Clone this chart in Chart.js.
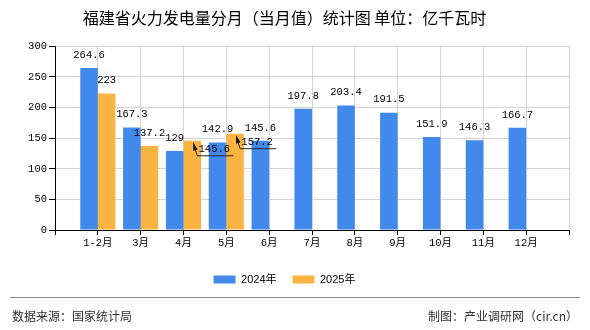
<!DOCTYPE html>
<html><head><meta charset="utf-8">
<script src="https://cdn.jsdelivr.net/npm/chart.js@4/dist/chart.umd.min.js"></script>
<style>html,body{margin:0;padding:0;background:#fff}#wrap{width:590px;height:330px;position:relative}</style>
</head><body><div id="wrap"><canvas id="c"></canvas></div>
<script>
const months = ['1-2月','3月','4月','5月','6月','7月','8月','9月','10月','11月','12月'];
const values2024 = [264.6,167.3,129,142.9,145.6,197.8,203.4,191.5,151.9,146.3,166.7];
const values2025 = [223,137.2,145.6,157.2,null,null,null,null,null,null,null];
const seriesNames = ['2024年','2025年'];
const yTicks = [0,50,100,150,200,250,300];
const callout2025 = ['4月','5月'];
const titleText = '福建省火力发电量分月（当月值）统计图 单位：亿千瓦时';
const sourceText = '数据来源：国家统计局';
const makerText = '制图：产业调研网（cir.cn）';

const axisLabels = [''].concat(months, ['']);
const pad = arr => [null].concat(arr, [null]);
const MONO = '"Liberation Mono","DejaVu Sans Mono","Noto Sans CJK SC",monospace';
const CJK = '"Noto Sans CJK SC","Noto Sans",sans-serif';

const valuePlugin = {
  id: 'vals',
  afterDatasetsDraw(chart) {
    const ctx = chart.ctx;
    ctx.save();
    ctx.font = '10.5px ' + MONO;
    ctx.fillStyle = '#000';
    ctx.textAlign = 'center';
    ctx.textBaseline = 'middle';
    chart.data.datasets.forEach((ds, di) => {
      const meta = chart.getDatasetMeta(di);
      meta.data.forEach((bar, i) => {
        const v = ds.data[i];
        if (v == null) return;
        const txt = String(v);
        if (di === 1 && callout2025.includes(axisLabels[i])) {
          const tx = bar.x + 1, ty = bar.y + 2;
          const ex = bar.x + 5, ey = bar.y + 15;
          ctx.strokeStyle = '#222';
          ctx.lineWidth = 1;
          ctx.beginPath();
          ctx.moveTo(tx, ty); ctx.lineTo(ex, ey); ctx.lineTo(bar.x + 41, ey);
          ctx.stroke();
          const ang = Math.atan2(ty - ey, tx - ex);
          ctx.beginPath();
          ctx.moveTo(tx, ty);
          ctx.lineTo(tx - 8 * Math.cos(ang - 0.3), ty - 8 * Math.sin(ang - 0.3));
          ctx.lineTo(tx - 8 * Math.cos(ang + 0.3), ty - 8 * Math.sin(ang + 0.3));
          ctx.closePath();
          ctx.fillStyle = '#111';
          ctx.fill();
          ctx.fillStyle = '#000';
          ctx.fillText(txt, bar.x + 22, bar.y + 8.5);
        } else {
          ctx.fillText(txt, bar.x, bar.y - 13);
        }
      });
    });
    ctx.restore();
  }
};

const footerPlugin = {
  id: 'footer',
  afterDraw(chart) {
    const ctx = chart.ctx;
    ctx.save();
    ctx.strokeStyle = '#888';
    ctx.lineWidth = 1;
    ctx.beginPath();
    ctx.moveTo(10, 297.5); ctx.lineTo(580, 297.5);
    ctx.stroke();
    ctx.font = '12px ' + CJK;
    ctx.fillStyle = '#333';
    ctx.textBaseline = 'middle';
    ctx.textAlign = 'left';
    ctx.fillText(sourceText, 12, 316);
    ctx.textAlign = 'right';
    ctx.fillText(makerText, 578, 316);
    ctx.restore();
  }
};

new Chart(document.getElementById('c'), {
  type: 'bar',
  data: {
    labels: axisLabels,
    datasets: [
      { label: seriesNames[0], data: pad(values2024), backgroundColor: '#418aec' },
      { label: seriesNames[1], data: pad(values2025), backgroundColor: '#fbb341' }
    ]
  },
  options: {
    responsive: true,
    maintainAspectRatio: false,
    animation: false,
    datasets: { bar: { categoryPercentage: 0.82, barPercentage: 1 } },
    layout: { padding: { left: 0, right: 21, top: 0, bottom: 35 } },
    plugins: {
      tooltip: { enabled: false },
      title: {
        display: true, text: titleText, color: '#000',
        font: { family: CJK, size: 16, weight: 'normal' },
        padding: { top: 8, bottom: 19 }
      },
      legend: {
        position: 'bottom',
        labels: {
          boxWidth: 22, boxHeight: 8, padding: 16, color: '#000',
          font: { family: '"Liberation Sans","Noto Sans CJK SC",sans-serif', size: 11 }
        }
      }
    },
    scales: {
      x: {
        offset: false,
        grid: { offset: false, color: '#d4d4d4', tickColor: '#000', tickLength: 5, drawOnChartArea: true },
        border: { color: '#000' },
        ticks: { color: '#000', font: { family: MONO, size: 10.5 }, padding: 2, autoSkip: false, maxRotation: 0 },
        afterFit(s) { s.height = 28; }
      },
      y: {
        min: 0, max: 300,
        afterBuildTicks(s) { s.ticks = yTicks.map(v => ({ value: v })); },
        grid: { color: '#d4d4d4', tickColor: '#000', tickLength: 6 },
        border: { color: '#000' },
        ticks: { color: '#000', font: { family: MONO, size: 10.5 }, padding: 2 },
        afterFit(s) { s.width = 55; }
      }
    }
  },
  plugins: [valuePlugin, footerPlugin]
});
</script></body></html>
